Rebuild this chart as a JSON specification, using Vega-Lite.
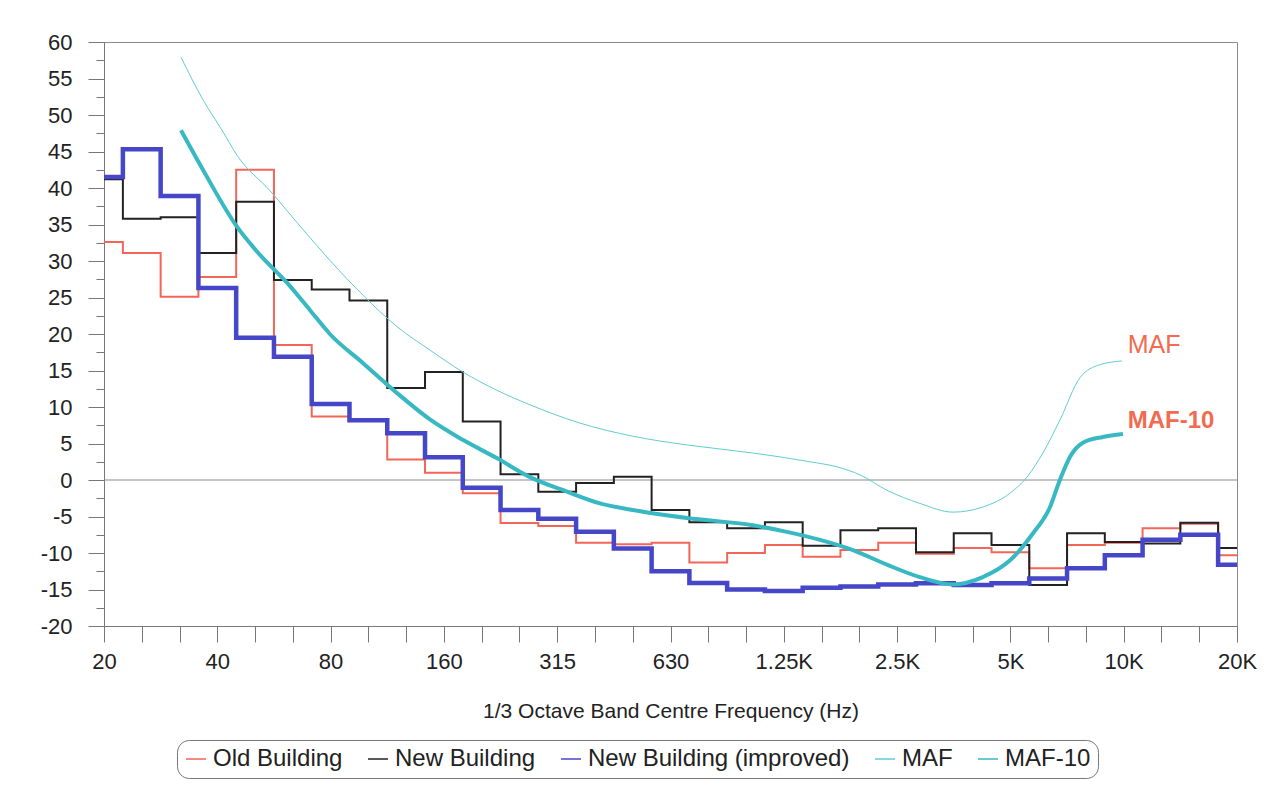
{
  "$schema": "https://vega.github.io/schema/vega-lite/v6.json",
  "width": 1133,
  "height": 584,
  "autosize": {"type": "none"},
  "padding": {"left": 104, "top": 42, "right": 27, "bottom": 169},
  "background": "white",
  "datasets": {
    "bands": [
      {"series": "Old Building", "freq": "20", "level": 32.6},
      {"series": "Old Building", "freq": "25", "level": 31.1},
      {"series": "Old Building", "freq": "31.5", "level": 25.1},
      {"series": "Old Building", "freq": "40", "level": 27.8},
      {"series": "Old Building", "freq": "50", "level": 42.5},
      {"series": "Old Building", "freq": "63", "level": 18.5},
      {"series": "Old Building", "freq": "80", "level": 8.7},
      {"series": "Old Building", "freq": "100", "level": 8.2},
      {"series": "Old Building", "freq": "125", "level": 2.8},
      {"series": "Old Building", "freq": "160", "level": 1.0},
      {"series": "Old Building", "freq": "200", "level": -1.8},
      {"series": "Old Building", "freq": "250", "level": -5.9},
      {"series": "Old Building", "freq": "315", "level": -6.3},
      {"series": "Old Building", "freq": "400", "level": -8.6},
      {"series": "Old Building", "freq": "500", "level": -8.8},
      {"series": "Old Building", "freq": "630", "level": -8.6},
      {"series": "Old Building", "freq": "800", "level": -11.3},
      {"series": "Old Building", "freq": "1K", "level": -10.0},
      {"series": "Old Building", "freq": "1.25K", "level": -8.9},
      {"series": "Old Building", "freq": "1.6K", "level": -10.5},
      {"series": "Old Building", "freq": "2K", "level": -9.6},
      {"series": "Old Building", "freq": "2.5K", "level": -8.6},
      {"series": "Old Building", "freq": "3.15K", "level": -10.1},
      {"series": "Old Building", "freq": "4K", "level": -9.3},
      {"series": "Old Building", "freq": "5K", "level": -9.9},
      {"series": "Old Building", "freq": "6.3K", "level": -12.1},
      {"series": "Old Building", "freq": "8K", "level": -8.9},
      {"series": "Old Building", "freq": "10K", "level": -8.6},
      {"series": "Old Building", "freq": "12.5K", "level": -6.6},
      {"series": "Old Building", "freq": "16K", "level": -6.0},
      {"series": "Old Building", "freq": "20K", "level": -10.3},
      {"series": "New Building", "freq": "20", "level": 41.2},
      {"series": "New Building", "freq": "25", "level": 35.8},
      {"series": "New Building", "freq": "31.5", "level": 36.0},
      {"series": "New Building", "freq": "40", "level": 31.1},
      {"series": "New Building", "freq": "50", "level": 38.1},
      {"series": "New Building", "freq": "63", "level": 27.4},
      {"series": "New Building", "freq": "80", "level": 26.1},
      {"series": "New Building", "freq": "100", "level": 24.6},
      {"series": "New Building", "freq": "125", "level": 12.6},
      {"series": "New Building", "freq": "160", "level": 14.8},
      {"series": "New Building", "freq": "200", "level": 8.0},
      {"series": "New Building", "freq": "250", "level": 0.8},
      {"series": "New Building", "freq": "315", "level": -1.6},
      {"series": "New Building", "freq": "400", "level": -0.4},
      {"series": "New Building", "freq": "500", "level": 0.45},
      {"series": "New Building", "freq": "630", "level": -4.1},
      {"series": "New Building", "freq": "800", "level": -5.8},
      {"series": "New Building", "freq": "1K", "level": -6.6},
      {"series": "New Building", "freq": "1.25K", "level": -5.8},
      {"series": "New Building", "freq": "1.6K", "level": -9.0},
      {"series": "New Building", "freq": "2K", "level": -6.9},
      {"series": "New Building", "freq": "2.5K", "level": -6.6},
      {"series": "New Building", "freq": "3.15K", "level": -9.9},
      {"series": "New Building", "freq": "4K", "level": -7.3},
      {"series": "New Building", "freq": "5K", "level": -8.9},
      {"series": "New Building", "freq": "6.3K", "level": -14.4},
      {"series": "New Building", "freq": "8K", "level": -7.3},
      {"series": "New Building", "freq": "10K", "level": -8.5},
      {"series": "New Building", "freq": "12.5K", "level": -8.7},
      {"series": "New Building", "freq": "16K", "level": -5.85},
      {"series": "New Building", "freq": "20K", "level": -9.3},
      {"series": "New Building (improved)", "freq": "20", "level": 41.5},
      {"series": "New Building (improved)", "freq": "25", "level": 45.3},
      {"series": "New Building (improved)", "freq": "31.5", "level": 38.9},
      {"series": "New Building (improved)", "freq": "40", "level": 26.3},
      {"series": "New Building (improved)", "freq": "50", "level": 19.5},
      {"series": "New Building (improved)", "freq": "63", "level": 16.9},
      {"series": "New Building (improved)", "freq": "80", "level": 10.4},
      {"series": "New Building (improved)", "freq": "100", "level": 8.2},
      {"series": "New Building (improved)", "freq": "125", "level": 6.4},
      {"series": "New Building (improved)", "freq": "160", "level": 3.1},
      {"series": "New Building (improved)", "freq": "200", "level": -1.05},
      {"series": "New Building (improved)", "freq": "250", "level": -4.1},
      {"series": "New Building (improved)", "freq": "315", "level": -5.3},
      {"series": "New Building (improved)", "freq": "400", "level": -7.1},
      {"series": "New Building (improved)", "freq": "500", "level": -9.4},
      {"series": "New Building (improved)", "freq": "630", "level": -12.5},
      {"series": "New Building (improved)", "freq": "800", "level": -14.1},
      {"series": "New Building (improved)", "freq": "1K", "level": -15.0},
      {"series": "New Building (improved)", "freq": "1.25K", "level": -15.2},
      {"series": "New Building (improved)", "freq": "1.6K", "level": -14.75},
      {"series": "New Building (improved)", "freq": "2K", "level": -14.6},
      {"series": "New Building (improved)", "freq": "2.5K", "level": -14.3},
      {"series": "New Building (improved)", "freq": "3.15K", "level": -14.15},
      {"series": "New Building (improved)", "freq": "4K", "level": -14.4},
      {"series": "New Building (improved)", "freq": "5K", "level": -14.15},
      {"series": "New Building (improved)", "freq": "6.3K", "level": -13.5},
      {"series": "New Building (improved)", "freq": "8K", "level": -12.1},
      {"series": "New Building (improved)", "freq": "10K", "level": -10.3},
      {"series": "New Building (improved)", "freq": "12.5K", "level": -8.2},
      {"series": "New Building (improved)", "freq": "16K", "level": -7.5},
      {"series": "New Building (improved)", "freq": "20K", "level": -11.6}
    ],
    "maf": [
      {"series": "MAF", "idx": 2.04, "level": 57.9},
      {"series": "MAF", "idx": 2.62, "level": 52.1},
      {"series": "MAF", "idx": 3.15, "level": 47.7},
      {"series": "MAF", "idx": 3.52, "level": 44.5},
      {"series": "MAF", "idx": 4.4, "level": 39.6},
      {"series": "MAF", "idx": 5.27, "level": 34.3},
      {"series": "MAF", "idx": 5.98, "level": 30.1},
      {"series": "MAF", "idx": 6.86, "level": 25.3},
      {"series": "MAF", "idx": 7.76, "level": 21.0},
      {"series": "MAF", "idx": 8.63, "level": 17.8},
      {"series": "MAF", "idx": 9.5, "level": 14.8},
      {"series": "MAF", "idx": 10.4, "level": 12.3},
      {"series": "MAF", "idx": 11.28, "level": 10.3},
      {"series": "MAF", "idx": 12.6, "level": 7.8},
      {"series": "MAF", "idx": 14.0, "level": 6.0},
      {"series": "MAF", "idx": 15.44, "level": 4.8},
      {"series": "MAF", "idx": 17.18, "level": 3.7},
      {"series": "MAF", "idx": 18.69, "level": 2.5},
      {"series": "MAF", "idx": 19.41, "level": 1.8},
      {"series": "MAF", "idx": 20.02, "level": 0.7},
      {"series": "MAF", "idx": 20.73, "level": -1.4},
      {"series": "MAF", "idx": 21.6, "level": -3.2},
      {"series": "MAF", "idx": 22.48, "level": -4.4},
      {"series": "MAF", "idx": 23.27, "level": -3.7},
      {"series": "MAF", "idx": 23.99, "level": -1.8},
      {"series": "MAF", "idx": 24.44, "level": 0.4},
      {"series": "MAF", "idx": 24.86, "level": 3.7},
      {"series": "MAF", "idx": 25.31, "level": 8.2},
      {"series": "MAF", "idx": 25.84, "level": 14.0},
      {"series": "MAF", "idx": 26.37, "level": 15.8},
      {"series": "MAF", "idx": 26.95, "level": 16.3},
      {"series": "MAF-10", "idx": 2.04, "level": 47.9},
      {"series": "MAF-10", "idx": 2.62, "level": 42.5},
      {"series": "MAF-10", "idx": 3.52, "level": 34.7},
      {"series": "MAF-10", "idx": 4.05, "level": 31.3},
      {"series": "MAF-10", "idx": 4.92, "level": 26.6},
      {"series": "MAF-10", "idx": 5.45, "level": 23.3},
      {"series": "MAF-10", "idx": 5.98, "level": 20.0},
      {"series": "MAF-10", "idx": 6.86, "level": 16.0},
      {"series": "MAF-10", "idx": 7.76, "level": 11.9},
      {"series": "MAF-10", "idx": 8.63, "level": 8.3},
      {"series": "MAF-10", "idx": 9.5, "level": 5.5},
      {"series": "MAF-10", "idx": 10.4, "level": 3.0},
      {"series": "MAF-10", "idx": 11.28, "level": 0.4},
      {"series": "MAF-10", "idx": 12.26, "level": -1.6},
      {"series": "MAF-10", "idx": 13.13, "level": -3.2},
      {"series": "MAF-10", "idx": 14.0, "level": -4.1},
      {"series": "MAF-10", "idx": 15.44, "level": -5.2},
      {"series": "MAF-10", "idx": 17.18, "level": -6.2},
      {"series": "MAF-10", "idx": 18.08, "level": -7.1},
      {"series": "MAF-10", "idx": 18.96, "level": -8.2},
      {"series": "MAF-10", "idx": 19.83, "level": -9.6},
      {"series": "MAF-10", "idx": 20.73, "level": -11.6},
      {"series": "MAF-10", "idx": 21.6, "level": -13.3},
      {"series": "MAF-10", "idx": 22.48, "level": -14.3},
      {"series": "MAF-10", "idx": 23.27, "level": -13.3},
      {"series": "MAF-10", "idx": 23.99, "level": -11.0},
      {"series": "MAF-10", "idx": 24.6, "level": -7.3},
      {"series": "MAF-10", "idx": 25.05, "level": -3.7},
      {"series": "MAF-10", "idx": 25.31, "level": 0.0},
      {"series": "MAF-10", "idx": 25.58, "level": 3.2},
      {"series": "MAF-10", "idx": 25.92, "level": 5.1},
      {"series": "MAF-10", "idx": 26.45, "level": 5.9},
      {"series": "MAF-10", "idx": 26.98, "level": 6.3}
    ],
    "notes": [
      {"label": "MAF", "idx": 27, "level": 17.4},
      {"label": "MAF-10", "idx": 27, "level": 7.1}
    ]
  },
  "resolve": {"scale": {"x": "independent", "y": "independent"}},
  "layer": [
    {
      "data": {"values": [{}]},
      "mark": {"type": "point", "opacity": 0, "size": 1},
      "encoding": {
        "y": {
          "datum": 0.5,
          "type": "quantitative",
          "scale": {"domain": [-3.5, 12.5], "nice": false, "zero": false},
          "axis": {
            "orient": "left",
            "tickCount": 16,
            "labels": false,
            "domain": false,
            "ticks": true,
            "tickSize": 8,
            "tickColor": "#777",
            "grid": false,
            "title": null
          }
        }
      }
    },
    {
      "data": {"values": [{"level": 0}]},
      "mark": {"type": "rule", "color": "#8c8c8c", "strokeWidth": 1.2},
      "encoding": {
        "y": {"field": "level", "type": "quantitative", "scale": {"domain": [-20, 60], "nice": false, "zero": false}, "axis": null}
      }
    },
    {
      "data": {"name": "bands"},
      "mark": {"type": "line", "interpolate": "step"},
      "encoding": {
        "x": {
          "field": "freq",
          "type": "ordinal",
          "sort": null,
          "scale": {
            "type": "point",
            "padding": 0,
            "domain": ["20","25","31.5","40","50","63","80","100","125","160","200","250","315","400","500","630","800","1K","1.25K","1.6K","2K","2.5K","3.15K","4K","5K","6.3K","8K","10K","12.5K","16K","20K"]
          },
          "axis": {
            "labelExpr": "(datum.value == '20' || datum.value == '40' || datum.value == '80' || datum.value == '160' || datum.value == '315' || datum.value == '630' || datum.value == '1.25K' || datum.value == '2.5K' || datum.value == '5K' || datum.value == '10K' || datum.value == '20K') ? datum.value : ''",
            "labelAngle": 0,
            "labelOverlap": false,
            "labelFlush": false,
            "labelBound": false,
            "tickSize": 16,
            "labelPadding": 9,
            "title": "1/3 Octave Band Centre Frequency (Hz)",
            "titlePadding": 28,
            "grid": false
          }
        },
        "y": {
          "field": "level",
          "type": "quantitative",
          "scale": {"domain": [-20, 60], "nice": false, "zero": false},
          "axis": {
            "orient": "left",
            "tickCount": 16,
            "labelExpr": "toString(datum.value)",
            "tickSize": 16,
            "labelPadding": 16,
            "title": null,
            "grid": false
          }
        },
        "color": {
          "field": "series",
          "type": "nominal",
          "scale": {
            "domain": ["Old Building", "New Building", "New Building (improved)", "MAF", "MAF-10"],
            "range": ["#f2665a", "#222222", "#4646c8", "#62cbd3", "#38b8c2"]
          },
          "legend": {
            "orient": "none",
            "legendX": 73,
            "legendY": 698,
            "direction": "horizontal",
            "title": null,
            "labelFontSize": 24,
            "labelFont": "Liberation Sans",
            "labelColor": "#222",
            "labelLimit": 400,
            "labelOffset": 5,
            "symbolType": "stroke",
            "symbolSize": 400,
            "columnPadding": 22,
            "padding": 7,
            "strokeColor": "#777",
            "cornerRadius": 12,
            "fillColor": "white"
          }
        },
        "strokeWidth": {
          "field": "series",
          "type": "nominal",
          "scale": {
            "type": "ordinal",
            "domain": ["Old Building", "New Building", "New Building (improved)", "MAF", "MAF-10"],
            "range": [2, 2, 4.5, 1.8, 3]
          },
          "legend": null
        }
      }
    },
    {
      "data": {"name": "maf"},
      "mark": {"type": "line", "interpolate": "monotone"},
      "encoding": {
        "x": {"field": "idx", "type": "quantitative", "scale": {"domain": [0, 30], "nice": false, "zero": false}, "axis": null},
        "y": {"field": "level", "type": "quantitative", "scale": {"domain": [-20, 60], "nice": false, "zero": false}, "axis": null},
        "color": {"field": "series", "type": "nominal"},
        "strokeWidth": {"field": "series", "type": "nominal", "legend": null}
      }
    },
    {
      "data": {"name": "notes"},
      "transform": [{"filter": "datum.label === 'MAF'"}],
      "mark": {"type": "text", "align": "left", "baseline": "alphabetic", "dx": 4, "fontSize": 25, "font": "Liberation Sans", "color": "#f26b50"},
      "encoding": {
        "x": {"field": "idx", "type": "quantitative", "scale": {"domain": [0, 30], "nice": false, "zero": false}, "axis": null},
        "y": {"field": "level", "type": "quantitative", "scale": {"domain": [-20, 60], "nice": false, "zero": false}, "axis": null},
        "text": {"field": "label"}
      }
    },
    {
      "data": {"name": "notes"},
      "transform": [{"filter": "datum.label === 'MAF-10'"}],
      "mark": {"type": "text", "align": "left", "baseline": "alphabetic", "dx": 4, "fontSize": 24, "fontWeight": "bold", "font": "Liberation Sans", "color": "#f26b50"},
      "encoding": {
        "x": {"field": "idx", "type": "quantitative", "scale": {"domain": [0, 30], "nice": false, "zero": false}, "axis": null},
        "y": {"field": "level", "type": "quantitative", "scale": {"domain": [-20, 60], "nice": false, "zero": false}, "axis": null},
        "text": {"field": "label"}
      }
    }
  ],
  "config": {
    "font": "Liberation Sans",
    "view": {"stroke": "#8a8a8a", "strokeWidth": 1},
    "axis": {
      "grid": false,
      "labelFont": "Liberation Sans",
      "labelFontSize": 22,
      "labelColor": "#222",
      "domainColor": "#777",
      "tickColor": "#777",
      "titleFont": "Liberation Sans",
      "titleFontSize": 21,
      "titleFontWeight": "normal",
      "titleColor": "#222"
    },
    "axisY": {"tickCount": 16}
  }
}
